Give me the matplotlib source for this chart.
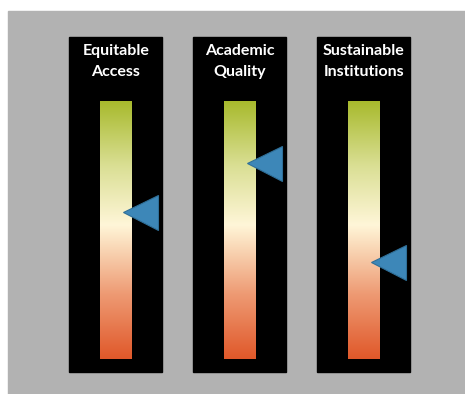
import numpy as np
import matplotlib
matplotlib.use("Agg")
import matplotlib.pyplot as plt
from matplotlib.colors import LinearSegmentedColormap
from matplotlib.patches import Rectangle

# scorecard categories and where each one sits on the scale (0 = bottom/red, 1 = top/green)
categories = ["Equitable\nAccess", "Academic\nQuality", "Sustainable\nInstitutions"]
scores = [0.57, 0.76, 0.376]

# colour scale: red at bottom, cream in the middle, green at top
scale_cmap = LinearSegmentedColormap.from_list(
    "scale", [(0.0, "#E0582A"), (0.25, "#EE9A73"), (0.52, "#FFF6D8"),
              (0.75, "#DADF94"), (1.0, "#A8BA2D")])

fig = plt.figure(figsize=(4.65, 3.94), dpi=100)
fig.patch.set_facecolor("white")

# grey backdrop, in figure coordinates
fig.add_artist(Rectangle((8 / 465, -0.05), 1.1, 1.05 - 11 / 394,
                         transform=fig.transFigure, color="#B2B2B2", zorder=0))

ax = fig.add_axes([0, 0, 1, 1])
ax.axis("off")

grad = np.linspace(0, 1, 256).reshape(-1, 1)
for i, (name, s) in enumerate(zip(categories, scores)):
    # black panel
    ax.add_patch(Rectangle((i - 0.375, -0.05), 0.75, 1.298, color="black", zorder=1))
    # gradient bar
    ax.imshow(grad, cmap=scale_cmap, origin="lower", aspect="auto",
              extent=(i - 0.129, i + 0.129, 0, 1), zorder=2)
    # label
    ax.text(i, 1.153, name, color="white", ha="center", va="center",
            fontsize=11.5, fontweight="bold", family="Lato", linespacing=1.65, zorder=3)
    # pointer
    ax.plot(i + 0.194, s, marker="<", markersize=25.2, color="#3D87B8",
            markeredgecolor="#2F6F98", markeredgewidth=0.8, zorder=4)

ax.set_xlim(-0.935, 2.815)
ax.set_ylim(-0.1357, 1.3915)

fig.savefig("out.png", dpi=100)
